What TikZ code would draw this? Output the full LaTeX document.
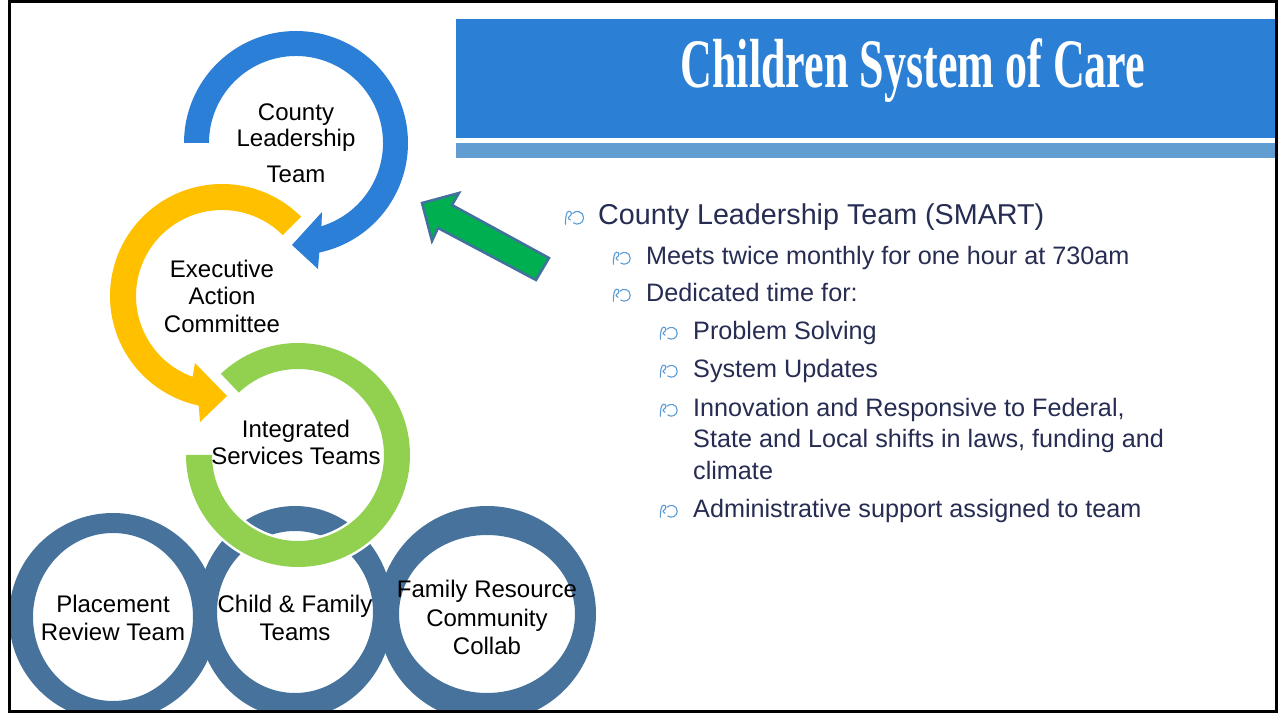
\documentclass[tikz,border=0pt]{standalone}
\usepackage{fontspec}
\setmainfont{Liberation Sans}
\newfontfamily\titlefont{Liberation Serif}
\usepackage{graphicx}
\definecolor{bannerblue}{RGB}{43,127,212}
\definecolor{stripblue}{RGB}{98,157,209}
\definecolor{arcblue}{RGB}{43,127,214}
\definecolor{arcyellow}{RGB}{255,192,0}
\definecolor{ringgreen}{RGB}{146,208,80}
\definecolor{ringblue}{RGB}{70,114,155}
\definecolor{arrowgreen}{RGB}{0,176,80}
\definecolor{arrowedge}{RGB}{65,113,156}
\definecolor{textnavy}{RGB}{38,44,82}
\definecolor{bulletblue}{RGB}{91,155,213}
\tikzset{
  halo/.style={preaction={draw=white, line width=5pt}},
  lab/.style={anchor=base, inner sep=0pt, text=black, font=\fontsize{24}{28}\selectfont},
  lvlone/.style={anchor=base west, inner sep=0pt, text=textnavy, font=\fontsize{28.7}{34}\selectfont},
  lvltwo/.style={anchor=base west, inner sep=0pt, text=textnavy, font=\fontsize{25.2}{30}\selectfont},
  bul/.pic={
    \draw[bulletblue, line width=1.1pt, line cap=round, line join=round]
      (1,0.5) .. controls (1,5) and (1.5,9.5) .. (3.5,9.5)
      .. controls (5.5,9.5) and (5.5,6.5) .. (3.8,6)
      .. controls (2.5,5.7) and (2.5,4) .. (4.5,3.5);
    \draw[bulletblue, line width=1.1pt, line cap=round]
      (6,8) .. controls (8,10.5) and (13.5,9.5) .. (13.5,5)
      .. controls (13.5,1) and (9,-0.5) .. (6.5,1.5);
  }
}
\begin{document}
\begin{tikzpicture}[x=1pt,y=1pt]
\useasboundingbox (0,0) rectangle (1278,713);
\fill[white] (0,0) rectangle (1278,713);

% title banner
\fill[bannerblue] (456,575) rectangle (1276,694);
\fill[stripblue] (456,555) rectangle (1276,570);
\node[anchor=base, inner sep=0pt, text=white, font=\titlefont\bfseries\fontsize{69.5}{70}\selectfont] (title) at (913,625) {\scalebox{0.634}[1]{Children System of Care}};

% bottom rings
\begin{scope}
\clip (10,3) rectangle (1275,711);
\fill[ringblue, even odd rule] (113,96) ellipse [x radius=104pt, y radius=104pt] (113,96) ellipse [x radius=80pt, y radius=84pt];
\fill[ringblue, even odd rule] (295,101) ellipse [x radius=98pt, y radius=106pt] (295,101) ellipse [x radius=78pt, y radius=81pt];
\fill[ringblue, even odd rule] (487,99) ellipse [x radius=109pt, y radius=108pt] (487,99) ellipse [x radius=88pt, y radius=79pt];
\end{scope}

% green ring
\begin{scope}[shift={(298,258)}]
\fill[ringgreen, halo] (180:112pt) arc[start angle=180, end angle=493.5, radius=112pt]
  -- (493.5:86pt) arc[start angle=493.5, end angle=180, radius=86pt] -- cycle;
\end{scope}

% yellow arc with arrow
\begin{scope}[shift={(222,417)}]
\fill[arcyellow, halo] (45:112pt) arc[start angle=45, end angle=258, radius=112pt]
  -- (-22,-126) -- (5,-100) -- (-27,-67)
  -- (250:86pt) arc[start angle=250, end angle=45, radius=86pt] -- cycle;
\end{scope}

% blue arc with arrow
\begin{scope}[shift={(296,570)}]
\fill[arcblue, halo] (180:112pt) arc[start angle=180, end angle=-78, radius=112pt]
  -- (22,-126) -- (-4,-102) -- (26,-69)
  -- (-73:87pt) arc[start angle=-73, end angle=180, radius=87pt] -- cycle;
\end{scope}

% green block arrow
\draw[fill=arrowgreen, draw=arrowedge, line width=2.5pt, line join=miter]
  (422,510) -- (459,520) -- (452,508) -- (549,455) -- (536,433) -- (438,485) -- (432,472) -- cycle;

% diagram labels
\node[lab] (clt1) at (296,592) {County};
\node[lab] (clt2) at (296,566) {Leadership};
\node[lab] (clt3) at (296,530) {Team};
\node[lab] (eac1) at (222,435) {Executive};
\node[lab] (eac2) at (222,408) {Action};
\node[lab] (eac3) at (222,380) {Committee};
\node[lab] (ist1) at (296,275) {Integrated};
\node[lab] (ist2) at (296,248) {Services Teams};
\node[lab] (prt1) at (113,101) {Placement};
\node[lab] (prt2) at (113,73) {Review Team};
\node[lab] (cft1) at (295,101) {Child \& Family};
\node[lab] (cft2) at (295,73) {Teams};
\node[lab] (frc1) at (487,115) {Family Resource};
\node[lab] (frc2) at (487,87) {Community};
\node[lab] (frc3) at (487,59) {Collab};

% bullet text
\pic[scale=1.45] at (564,488) {bul};
\node[lvlone] (t1) at (598,488) {County Leadership Team (SMART)};
\pic[scale=1.35] at (612,448) {bul};
\node[lvltwo] (t2) at (646,448) {Meets twice monthly for one hour at 730am};
\pic[scale=1.35] at (612,411) {bul};
\node[lvltwo] (t3) at (646,411) {Dedicated time for:};
\pic[scale=1.35] at (659,373) {bul};
\node[lvltwo] (t4) at (693,373) {Problem Solving};
\pic[scale=1.35] at (659,335) {bul};
\node[lvltwo] (t5) at (693,335) {System Updates};
\pic[scale=1.35] at (659,296) {bul};
\node[lvltwo] (t6a) at (693,296) {Innovation and Responsive to Federal,};
\node[lvltwo] (t6b) at (693,265) {State and Local shifts in laws, funding and};
\node[lvltwo] (t6c) at (693,233) {climate};
\pic[scale=1.35] at (659,195) {bul};
\node[lvltwo] (t7) at (693,195) {Administrative support assigned to team};

% slide frame
\draw[black, line width=3pt] (9,2) rectangle (1276,711.5);
\end{tikzpicture}
\end{document}
